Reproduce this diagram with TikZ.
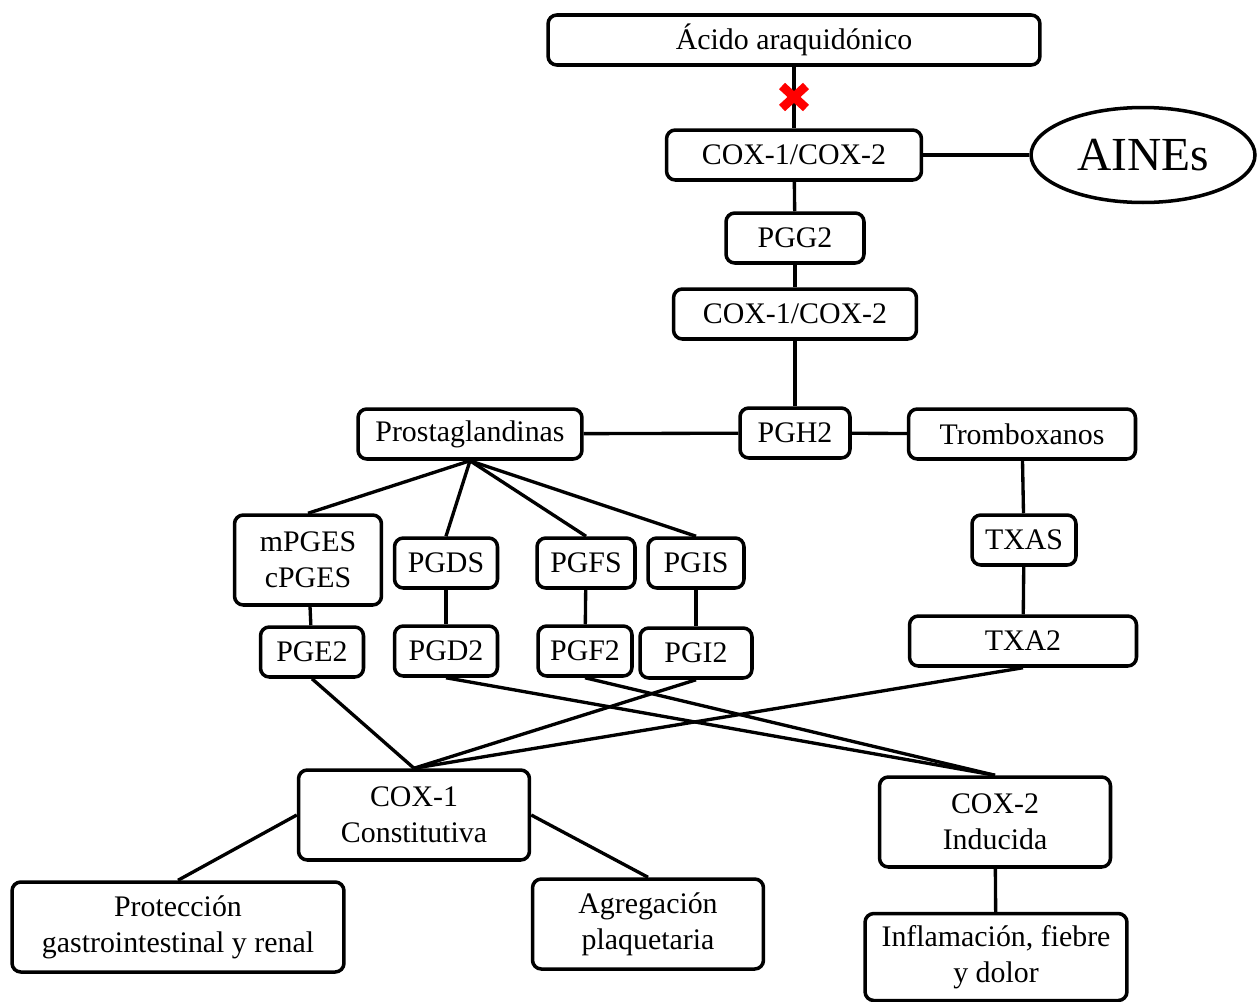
\documentclass[tikz,border=0pt]{standalone}
\usepackage{fontspec}
\setmainfont{Liberation Serif}
\usetikzlibrary{shapes.geometric}

\begin{document}
\begin{tikzpicture}[x=0.02cm, y=-0.02cm,
    bx/.style={draw, rounded corners=5pt, line width=2pt, minimum height=1cm, align=center, font=\fontsize{17}{20.4}\selectfont, inner sep=1pt},
    tall/.style={bx, minimum height=1.8cm},
    ln/.style={line width=1.9pt}
]
\useasboundingbox (0,0) rectangle (1257,1001);

% top chain
\node[bx, minimum width=9.84cm] (acido) at (794,40) {Ácido araquidónico};
\node[bx, minimum width=5.1cm] (coxa) at (794,155) {COX-1/COX-2};
\node[draw, ellipse, line width=2pt, minimum width=4.48cm, minimum height=1.9cm, inner sep=0pt, font=\fontsize{27}{32}\selectfont] (aines) at (1143,155) {AINEs};
\node[bx, minimum width=2.76cm] (pgg) at (795,238) {PGG2};
\node[bx, minimum width=4.86cm] (coxb) at (795,314) {COX-1/COX-2};
\node[bx, minimum width=2.2cm] (pgh) at (795,433) {PGH2};
\node[bx, minimum width=4.48cm] (prost) at (470,434) {Prostaglandinas};
\node[bx, minimum width=4.54cm] (tromb) at (1022,434) {Tromboxanos};

% sintasas y productos
\node[tall, minimum width=2.94cm] (mpges) at (308,560) {mPGES\\cPGES};
\node[bx, minimum width=2.06cm] (pgds) at (446,563) {PGDS};
\node[bx, minimum width=1.96cm] (pgfs) at (586,563) {PGFS};
\node[bx, minimum width=1.92cm] (pgis) at (696,563) {PGIS};
\node[bx, minimum width=2.06cm] (pge) at (312,652) {PGE2};
\node[bx, minimum width=2.06cm] (pgd) at (446,651) {PGD2};
\node[bx, minimum width=1.88cm] (pgf) at (585,651) {PGF2};
\node[bx, minimum width=2.24cm] (pgi) at (696,653) {PGI2};
\node[bx, minimum width=2.08cm] (txas) at (1024,540) {TXAS};
\node[bx, minimum width=4.54cm] (txa) at (1023,641) {TXA2};

% isoformas y efectos
\node[tall, minimum width=4.62cm] (cox1) at (414,815) {COX-1\\Constitutiva};
\node[tall, minimum width=4.62cm] (cox2) at (995,822) {COX-2\\Inducida};
\node[tall, minimum width=6.64cm] (prot) at (178,927) {Protección\\gastrointestinal y renal};
\node[tall, minimum width=4.62cm] (agreg) at (648,924) {Agregación\\plaquetaria};
\node[tall, minimum width=5.24cm, minimum height=1.74cm] (infl) at (996,957) {Inflamación, fiebre\\y dolor};

\draw[ln] (acido) -- (coxa);
\draw[red, line width=5pt] (782,86) -- (806,108) (806,86) -- (782,108);
\draw[ln] (coxa) -- (aines);
\draw[ln] (coxa) -- (pgg);
\draw[ln] (pgg) -- (coxb);
\draw[ln] (coxb) -- (pgh);
\draw[ln] (prost) -- (pgh);
\draw[ln] (pgh) -- (tromb);

\draw[ln] (prost.south) -- (mpges.north);
\draw[ln] (prost.south) -- (pgds.north);
\draw[ln] (prost.south) -- (pgfs.north);
\draw[ln] (prost.south) -- (pgis.north);
\draw[ln] (mpges) -- (pge);
\draw[ln] (pgds) -- (pgd);
\draw[ln] (pgfs) -- (pgf);
\draw[ln] (pgis) -- (pgi);
\draw[ln] (tromb) -- (txas);
\draw[ln] (txas) -- (txa);

\draw[ln] (pge.south) -- (cox1.north);
\draw[ln] (pgi.south) -- (cox1.north);
\draw[ln] (txa.south) -- (cox1.north);
\draw[ln] (pgd.south) -- (cox2.north);
\draw[ln] (pgf.south) -- (cox2.north);

\draw[ln] (cox1.west) -- (prot.north);
\draw[ln] (cox1.east) -- (agreg.north);
\draw[ln] (cox2) -- (infl);
\end{tikzpicture}
\end{document}
